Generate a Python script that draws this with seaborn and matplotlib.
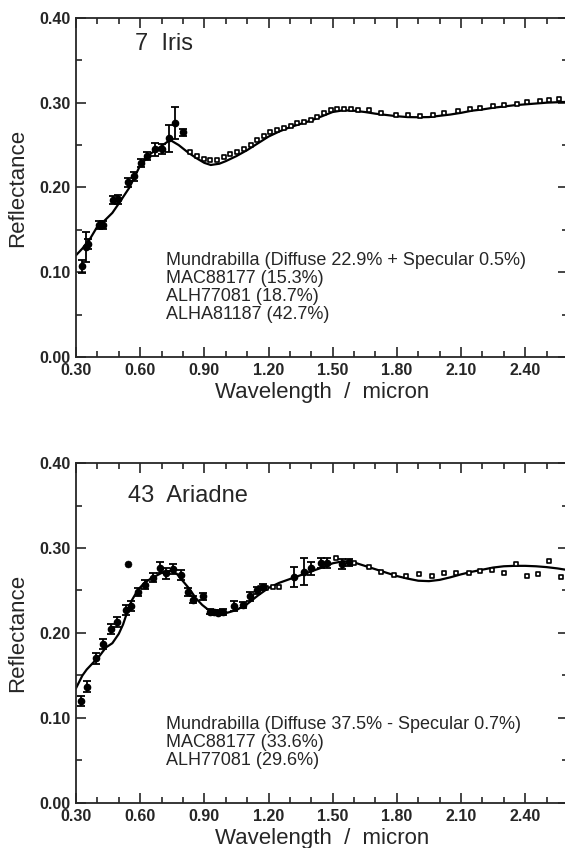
"""Asteroid reflectance spectra with meteorite mixture models (7 Iris, 43 Ariadne)."""
import matplotlib
matplotlib.use('Agg')
import matplotlib.pyplot as plt
from matplotlib.ticker import MultipleLocator, FormatStrFormatter
import numpy as np
import pandas as pd
import seaborn as sns

# ---- 7 Iris -------------------------------------------------------------
iris_vis_x = [0.330, 0.347, 0.358, 0.408, 0.427, 0.475, 0.498, 0.545, 0.569,
              0.603, 0.631, 0.670, 0.702, 0.735, 0.764, 0.798]
iris_vis_y = [0.107, 0.130, 0.133, 0.156, 0.156, 0.185, 0.186, 0.206, 0.213,
              0.229, 0.237, 0.245, 0.245, 0.258, 0.276, 0.265]
iris_vis_err = [0.008, 0.018, 0.006, 0.005, 0.005, 0.005, 0.005, 0.005, 0.005,
                0.005, 0.005, 0.008, 0.006, 0.016, 0.019, 0.004]

iris_ir_x = [0.834, 0.866, 0.897, 0.928, 0.960, 0.990, 1.020, 1.053, 1.084,
             1.116, 1.147, 1.178, 1.209, 1.240, 1.272, 1.303, 1.334, 1.366,
             1.397, 1.428, 1.459, 1.490, 1.522, 1.553, 1.584, 1.616, 1.670,
             1.725, 1.795, 1.850, 1.910, 1.967, 2.020, 2.085, 2.140, 2.190,
             2.250, 2.300, 2.360, 2.410, 2.470, 2.510, 2.560]
iris_ir_y = [0.242, 0.237, 0.233, 0.232, 0.2325, 0.2355, 0.2395, 0.242, 0.245,
             0.250, 0.256, 0.261, 0.265, 0.268, 0.2705, 0.273, 0.2757, 0.2777,
             0.280, 0.2836, 0.2875, 0.2914, 0.293, 0.2926, 0.292, 0.2914, 0.291,
             0.2875, 0.285, 0.2855, 0.2845, 0.285, 0.2875, 0.290, 0.292, 0.2935,
             0.296, 0.297, 0.299, 0.301, 0.302, 0.303, 0.304]

iris_model_x = [0.30, 0.33, 0.36, 0.40, 0.43, 0.47, 0.50, 0.55, 0.60, 0.65,
                0.70, 0.74, 0.78, 0.82, 0.86, 0.90, 0.93, 0.97, 1.00, 1.05,
                1.10, 1.15, 1.20, 1.25, 1.30, 1.35, 1.40, 1.45, 1.50, 1.55,
                1.60, 1.65, 1.70, 1.75, 1.80, 1.85, 1.90, 1.95, 2.00, 2.05,
                2.10, 2.15, 2.20, 2.25, 2.30, 2.35, 2.40, 2.45, 2.50, 2.55, 2.60]
iris_model_y = [0.120, 0.128, 0.137, 0.154, 0.160, 0.170, 0.181, 0.200, 0.226, 0.240,
                0.249, 0.256, 0.250, 0.242, 0.235, 0.229, 0.2265, 0.228, 0.231, 0.237,
                0.244, 0.252, 0.260, 0.266, 0.271, 0.275, 0.279, 0.284, 0.289, 0.291,
                0.2905, 0.289, 0.287, 0.2855, 0.284, 0.283, 0.2828, 0.283, 0.2845, 0.286,
                0.288, 0.2905, 0.292, 0.294, 0.2955, 0.297, 0.298, 0.299, 0.300, 0.3005, 0.301]

iris_mix = ['Mundrabilla (Diffuse 22.9% + Specular 0.5%)',
            'MAC88177 (15.3%)',
            'ALH77081 (18.7%)',
            'ALHA81187 (42.7%)']

# ---- 43 Ariadne ---------------------------------------------------------
ariadne_vis_x = [0.323, 0.350, 0.394, 0.425, 0.464, 0.490, 0.534, 0.558, 0.590,
                 0.621, 0.662, 0.692, 0.722, 0.755, 0.792, 0.823, 0.848, 0.893,
                 0.925, 0.945, 0.965, 0.987, 1.040, 1.080, 1.112, 1.144, 1.175,
                 1.318, 1.366, 1.397, 1.444, 1.475, 1.545, 1.576]
ariadne_vis_y = [0.120, 0.137, 0.170, 0.187, 0.205, 0.213, 0.227, 0.232, 0.248,
                 0.257, 0.265, 0.277, 0.270, 0.275, 0.268, 0.248, 0.239, 0.243,
                 0.225, 0.2245, 0.224, 0.2247, 0.232, 0.233, 0.243, 0.250, 0.254,
                 0.266, 0.272, 0.276, 0.282, 0.282, 0.281, 0.283]
ariadne_vis_err = [0.006, 0.006, 0.006, 0.006, 0.006, 0.006, 0.006, 0.006, 0.005,
                   0.005, 0.005, 0.006, 0.006, 0.006, 0.006, 0.005, 0.004, 0.004,
                   0.003, 0.003, 0.003, 0.003, 0.006, 0.004, 0.005, 0.004, 0.004,
                   0.012, 0.016, 0.008, 0.006, 0.006, 0.006, 0.004]
ariadne_out_x = [0.542]
ariadne_out_y = [0.281]

ariadne_ir_x = [1.160, 1.190, 1.220, 1.250, 1.514, 1.600, 1.670, 1.725, 1.788,
                1.842, 1.905, 1.963, 2.022, 2.077, 2.136, 2.190, 2.245, 2.300,
                2.355, 2.410, 2.460, 2.511, 2.566]
ariadne_ir_y = [0.253, 0.253, 0.254, 0.2545, 0.288, 0.2824, 0.278, 0.272, 0.268,
                0.2665, 0.2692, 0.267, 0.270, 0.270, 0.270, 0.2733, 0.2737, 0.270,
                0.2812, 0.267, 0.2692, 0.285, 0.2655]

ariadne_model_x = [0.30, 0.33, 0.35, 0.38, 0.41, 0.44, 0.47, 0.50, 0.52, 0.54,
                   0.56, 0.59, 0.62, 0.65, 0.68, 0.71, 0.74, 0.77, 0.80, 0.83,
                   0.86, 0.89, 0.92, 0.95, 0.98, 1.01, 1.05, 1.10, 1.15, 1.20,
                   1.25, 1.30, 1.35, 1.40, 1.45, 1.50, 1.55, 1.60, 1.65, 1.70,
                   1.75, 1.80, 1.85, 1.90, 1.95, 2.00, 2.05, 2.10, 2.15, 2.20,
                   2.25, 2.30, 2.35, 2.40, 2.45, 2.50, 2.55, 2.60]
ariadne_model_y = [0.135, 0.150, 0.157, 0.165, 0.173, 0.183, 0.188, 0.199, 0.210, 0.225,
                   0.238, 0.251, 0.259, 0.264, 0.268, 0.272, 0.273, 0.270, 0.261, 0.252,
                   0.241, 0.233, 0.227, 0.2235, 0.223, 0.224, 0.227, 0.234, 0.244, 0.253,
                   0.259, 0.2635, 0.268, 0.2725, 0.277, 0.282, 0.2845, 0.283, 0.279, 0.275,
                   0.271, 0.267, 0.264, 0.2615, 0.261, 0.2625, 0.2655, 0.269, 0.272, 0.2745,
                   0.277, 0.2785, 0.279, 0.279, 0.2785, 0.2775, 0.276, 0.274]

ariadne_mix = ['Mundrabilla (Diffuse 37.5% - Specular 0.7%)',
               'MAC88177 (33.6%)',
               'ALH77081 (29.6%)']

sns.set_style('ticks')
plt.rcParams['font.family'] = ['Liberation Sans', 'DejaVu Sans']
plt.rcParams['axes.linewidth'] = 1.3

fig = plt.figure(figsize=(5.65, 8.48), dpi=100)
ax_top = fig.add_axes([0.1345, 0.579, 0.8708, 0.3999])
ax_bot = fig.add_axes([0.1345, 0.0531, 0.8708, 0.4009])


def draw_panel(ax, name, name_y, vis_x, vis_y, vis_err, ir_x, ir_y,
               model_x, model_y, mix, mix_y):
    model = pd.DataFrame({'wl': model_x, 'refl': model_y})
    sns.lineplot(data=model, x='wl', y='refl', ax=ax, color='black',
                 linewidth=1.6, sort=False)
    ir = pd.DataFrame({'wl': ir_x, 'refl': ir_y})
    sns.scatterplot(data=ir, x='wl', y='refl', ax=ax, marker='s', s=12,
                    facecolor='white', edgecolor='black', linewidth=1.2, zorder=3)
    ax.errorbar(vis_x, vis_y, yerr=vis_err, fmt='o', color='black', ms=4.5,
                capsize=3, elinewidth=1.3, capthick=1.3, zorder=4)

    ax.set_xlim(0.30, 2.60)
    ax.set_ylim(0.0, 0.40)
    ax.xaxis.set_major_locator(MultipleLocator(0.3))
    ax.xaxis.set_minor_locator(MultipleLocator(0.1))
    ax.yaxis.set_major_locator(MultipleLocator(0.1))
    ax.yaxis.set_minor_locator(MultipleLocator(0.05))
    ax.xaxis.set_major_formatter(FormatStrFormatter('%.2f'))
    ax.yaxis.set_major_formatter(FormatStrFormatter('%.2f'))
    ax.tick_params(which='both', direction='in', top=True, right=True, width=1.2)
    ax.tick_params(which='major', length=7, labelsize=11.5, pad=4)
    ax.tick_params(which='minor', length=4)
    for lab in ax.get_xticklabels() + ax.get_yticklabels():
        lab.set_fontweight('bold')
    ax.set_xlabel('Wavelength  /  micron', fontsize=16, labelpad=3)
    ax.set_ylabel('Reflectance', fontsize=16, labelpad=8)

    ax.text(name[1], name_y, name[0], fontsize=17, va='top', ha='left')
    ax.text(0.722, mix_y, '\n'.join(mix), fontsize=13, va='top', ha='left',
            linespacing=1.08)


draw_panel(ax_top, ('7  Iris', 0.577), 0.382, iris_vis_x, iris_vis_y, iris_vis_err,
           iris_ir_x, iris_ir_y, iris_model_x, iris_model_y, iris_mix, 0.124)
draw_panel(ax_bot, ('43  Ariadne', 0.544), 0.374, ariadne_vis_x, ariadne_vis_y,
           ariadne_vis_err, ariadne_ir_x, ariadne_ir_y, ariadne_model_x,
           ariadne_model_y, ariadne_mix, 0.102)
sns.scatterplot(x=ariadne_out_x, y=ariadne_out_y, ax=ax_bot, color='black',
                s=25, edgecolor='black', zorder=4)

fig.savefig('out.png', dpi=100)
